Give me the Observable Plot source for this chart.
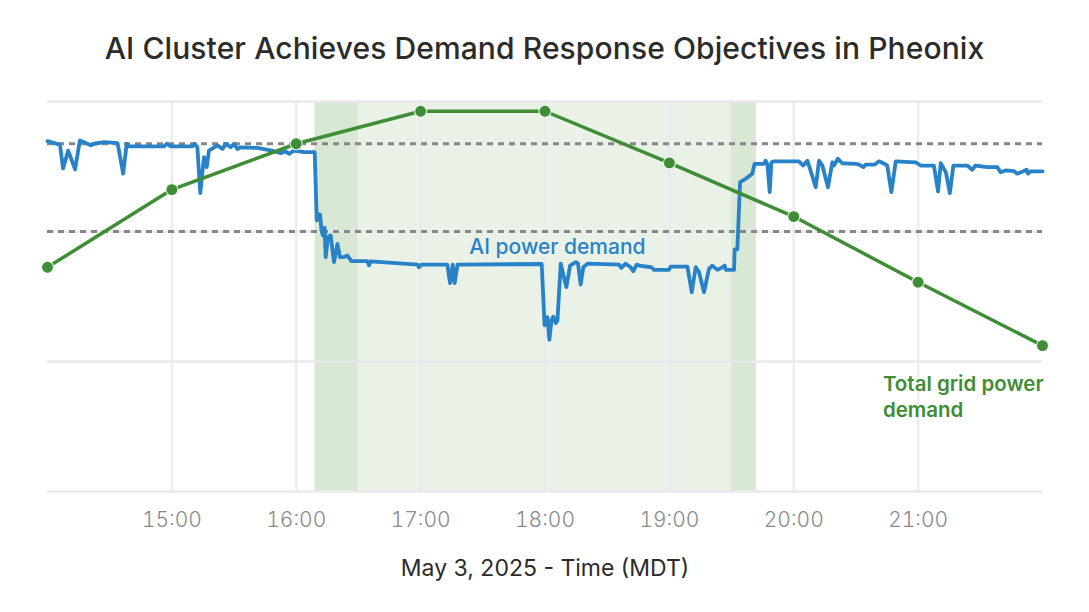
<!DOCTYPE html>
<html><head><meta charset="utf-8">
<script src="https://cdn.jsdelivr.net/npm/d3@7"></script>
<script src="https://cdn.jsdelivr.net/npm/@observablehq/plot@0.6"></script>
<style>
body{margin:0;background:#fff;font-family:Inter,"Noto Sans",sans-serif;}
#title{height:90px;box-sizing:border-box;padding-top:6px;display:flex;align-items:center;justify-content:center;font-size:30px;font-weight:500;color:#2b2b2b;letter-spacing:0.1px;}
#chart svg{display:block;}
</style></head><body>
<div id="title">AI Cluster Achieves Demand Response Objectives in Pheonix</div>
<div id="chart"></div>
<script>
// Total grid power demand, hourly (relative units)
const gridHours = [14, 15, 16, 17, 18, 19, 20, 21, 22];
const gridPower = [69.0, 92.9, 107.0, 117.0, 117.0, 101.1, 84.6, 64.4, 44.9];

// AI cluster power demand: minutes after 14:00 and relative power
const aiMinutes = [0,5,6,7.5,10,13.3,15.6,19.3,20.9,22.5,27.3,33.8,36.5,38.2,39.4,56.2,57.5,59.5,69.9,71,72.3,73.7,75.5,76.8,77.9,80.4,82,84.4,86,88.4,90,91.6,93.2,101.3,109.3,112.5,114.9,116.5,118.9,123.8,128.9,129.9,130.5,131.5,132.2,132.8,133.7,134.2,135.3,136.6,138.2,139.9,141.1,142.8,144.7,146.6,154.3,155.1,155.9,178.5,179.2,180.4,192.9,194.2,195.5,196.4,197.8,238.4,239.8,241.2,242.1,243.1,244,245.2,246,247.6,248.7,250.3,252.1,254.8,255.9,257.2,258.5,260.5,275.7,276.8,278.9,281.3,282.6,284.2,286.2,291.3,292.6,299.8,300.6,308.7,310.8,312.7,314.3,316.7,319.1,320.7,323.2,325.6,326.7,327.2,331.2,331.5,332.8,334.1,336.8,340,341.1,345.6,346.4,347.3,348.4,349.2,350.5,362.5,364.6,366.6,370.6,372.2,373.8,376.5,378.6,379.4,381.3,383.4,389.9,391.5,393.6,394.7,399.1,401.1,404.4,405.1,407.1,409.2,418.8,421.2,427.6,429.6,430.9,433.4,435.3,437,443.7,446.1,447.7,453.4,458.2,459.8,462.2,466.2,467.8,471,472.3,473,474.3,480];
const aiPower = [107.8,106.9,106.8,99.4,104.9,99.1,108,107,106.5,107,107.5,107.2,97.8,107,106.2,106.2,107,106.2,106.2,107,105.9,91.8,102.9,99.8,104.9,105.9,106.5,105.4,107,105.9,107,105.4,105.9,105.7,104.7,104.1,104.7,103.9,104.9,104.4,104.4,83.4,85.4,85.2,80.3,78.8,81.1,72.1,78.2,78.8,70.6,76.2,72.1,72.1,72.6,70.9,70.9,69.6,70.8,69.8,69,69.8,69.8,64.1,69.8,64.1,69.8,70,51.1,53.6,46.7,52.6,53.8,51.8,52.6,70.1,67,62.9,69.5,70.6,70.2,63.7,69,70.1,69.8,68.8,70.1,69,67.8,69.8,69.4,69,68.2,68.2,69.2,69.2,61.3,69,67.5,61.3,68.5,69.5,68.2,69,69.5,68.2,68.2,74.5,74.5,95.2,96.2,97.8,100.8,100.8,101.8,100.6,92.1,101.3,101.6,101.6,100.3,101.8,93.6,101.8,100.3,93.6,101.3,100.3,102.4,101,100.8,100.6,99.8,100.6,100.6,101.6,100.6,100.3,92.1,101.6,101.3,100.3,100.3,92.3,101,98.2,91.8,100.3,100.3,99,100.3,99.8,99.8,98.2,98.8,98.6,97.8,98.6,99,97.8,98.5,98.5];

// Demand response windows
const windowStart = ["16:09", "16:30", "19:30"];
const windowEnd   = ["16:30", "19:30", "19:42"];
const windowKind  = ["ramp", "event", "ramp"];

const thresholds = [107, 80];
const yGridValues = [0, 40, 80, 120];
const xTickHours = [15, 16, 17, 18, 19, 20, 21];
const xLabel = "May 3, 2025 - Time (MDT)";
const gridLabelLines = ["Total grid power", "demand"];

const day = (h, m = 0) => new Date(Date.UTC(2025, 4, 3, h, 0) + m * 60000);
const hm = s => { const [h, m] = s.split(":").map(Number); return day(h, m); };

const grid = gridHours.map((h, i) => ({t: day(h), v: gridPower[i]}));
const ai = aiMinutes.map((m, i) => ({t: day(14, m), v: aiPower[i]}));
const windows = windowStart.map((s, i) => ({x1: hm(s), x2: hm(windowEnd[i]), kind: windowKind[i]}));

const blue = "#2882c8", green = "#3f8d36";

const chart = Plot.plot({
  width: 1089, height: 522,
  marginLeft: 47, marginRight: 47, marginTop: 11, marginBottom: 121,
  style: {fontFamily: "Inter, 'Noto Sans', sans-serif", background: "#fff"},
  x: {type: "utc", domain: [day(14), day(22)]},
  y: {domain: [0, 120], axis: null},
  marks: [
    Plot.rectX(windows, {x1: "x1", x2: "x2", y1: 0, y2: 120,
      fill: d => d.kind === "ramp" ? "#d9e8d5" : "#eaf2e8"}),
    Plot.ruleY(yGridValues, {stroke: "#e6e8ec", strokeWidth: 2.5, strokeOpacity: 0.9}),
    Plot.ruleX(xTickHours.map(h => day(h)), {stroke: "#e6e8ec", strokeWidth: 2.5, strokeOpacity: 0.8}),
    Plot.ruleY(thresholds, {stroke: "#878787", strokeWidth: 3, strokeDasharray: "6,5"}),
    Plot.line(ai, {x: "t", y: "v", stroke: blue, strokeWidth: 3.8, strokeLinejoin: "round"}),
    Plot.line(grid, {x: "t", y: "v", stroke: green, strokeWidth: 3.5}),
    Plot.dot(grid, {x: "t", y: "v", r: 6, fill: green, stroke: "#fff", strokeWidth: 1.2, strokeOpacity: 0.8}),
    Plot.text(["AI power demand"], {x: day(18, 6), y: 75, fill: blue, fontSize: 21, fontWeight: 500, textAnchor: "middle"}),
    Plot.text([gridLabelLines[0]], {x: day(20, 43), y: 33, fill: green, fontSize: 20.5, fontWeight: 600, textAnchor: "start"}),
    Plot.text([gridLabelLines[1]], {x: day(20, 43), y: 33, dy: 26, fill: green, fontSize: 20.5, fontWeight: 600, textAnchor: "start"}),
    Plot.axisX(xTickHours.map(h => day(h)), {tickSize: 0, tickPadding: 21, tickFormat: d3.utcFormat("%H:%M"), fontSize: 21, fill: "#8a8a8a", fontWeight: 300, label: null}),
    Plot.text([xLabel], {frameAnchor: "bottom", dy: 84, fontSize: 23, fill: "#2b2b2b", fontWeight: 400})
  ]
});
document.getElementById("chart").appendChild(chart);
</script>
</body></html>
